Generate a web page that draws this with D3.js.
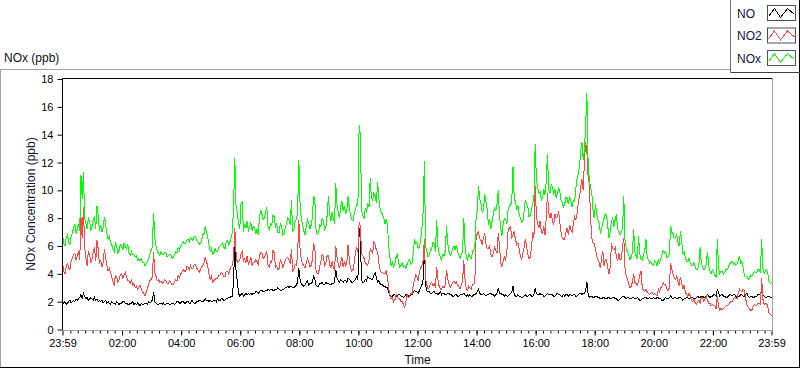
<!DOCTYPE html>
<html>
<head>
<meta charset="utf-8">
<script src="https://cdn.jsdelivr.net/npm/d3@7"></script>
<style>
body { margin: 0; background: #fff; }
svg text { font-family: "Liberation Sans", Arial, sans-serif; }
</style>
</head>
<body>
<div id="chart"></div>
<script>
// series names and colours, in legend order
var seriesNames = ["NO", "NO2", "NOx"];
var seriesColors = ["#000000", "#ff4444", "#00ff00"];

// one reading every 2.5 minutes from 23:59 to 23:59 (ppb), one row per hour
var stepMinutes = 2.5;

var no = [
  2.0, 1.9, 2.0, 1.8, 1.9, 2.0, 2.1, 1.9, 2.0, 2.1, 2.0, 2.2, 2.1, 2.2, 2.3, 2.5, 2.2, 2.6, 2.4, 2.2, 2.3, 2.1, 2.2, 2.3,
  2.2, 2.1, 2.3, 2.1, 2.2, 2.0, 2.1, 2.0, 2.1, 1.9, 2.0, 2.1, 1.9, 2.0, 1.9, 1.8, 2.0, 1.9, 1.9, 1.8, 2.0, 1.9, 1.8, 1.9,
  1.9, 2.0, 2.0, 1.9, 1.9, 1.8, 1.8, 1.9, 1.9, 2.0, 1.8, 1.9, 1.8, 1.9, 1.8, 1.7, 1.9, 1.8, 1.8, 1.9, 1.9, 1.8, 2.0, 1.9,
  2.0, 2.1, 2.7, 2.0, 1.9, 1.8, 1.8, 1.9, 1.9, 1.8, 1.9, 1.8, 1.8, 1.9, 1.9, 1.8, 1.8, 1.9, 1.9, 1.8, 1.9, 2.0, 2.0, 1.9,
  1.9, 2.0, 2.0, 1.9, 1.9, 2.0, 2.0, 1.9, 1.9, 2.1, 2.0, 1.9, 1.9, 2.0, 2.0, 2.1, 2.1, 2.0, 2.0, 2.1, 2.2, 2.1, 2.1, 2.0,
  2.1, 2.0, 2.0, 2.1, 2.1, 2.0, 2.2, 2.1, 2.1, 2.2, 2.2, 2.1, 2.1, 2.2, 2.2, 2.3, 2.3, 2.4, 2.4, 3.5, 6.4, 4.2, 3.5, 2.6,
  2.4, 2.5, 2.6, 2.4, 2.5, 2.6, 2.5, 2.6, 2.5, 2.6, 2.5, 2.6, 2.6, 2.7, 2.7, 2.6, 2.7, 2.8, 2.8, 2.7, 2.7, 2.8, 2.8, 2.9,
  2.8, 2.9, 2.9, 2.8, 2.8, 2.9, 2.9, 3.0, 2.9, 2.8, 2.8, 2.9, 2.9, 3.0, 3.0, 3.1, 3.0, 3.1, 3.1, 3.0, 3.0, 3.1, 3.2, 3.4,
  4.4, 3.6, 3.3, 3.2, 3.1, 3.2, 3.4, 3.5, 3.2, 3.3, 3.3, 3.4, 3.8, 3.6, 3.2, 3.1, 3.1, 3.3, 3.3, 3.4, 3.2, 3.2, 3.4, 3.3,
  3.3, 3.2, 3.2, 3.3, 3.3, 3.4, 4.3, 3.7, 3.5, 3.4, 3.6, 3.5, 3.4, 3.5, 3.5, 3.4, 3.7, 3.6, 3.5, 3.4, 3.4, 3.5, 3.6, 3.8,
  3.6, 7.3, 6.4, 3.5, 3.4, 3.4, 3.6, 3.5, 3.8, 3.7, 3.7, 3.6, 3.6, 3.9, 4.1, 3.7, 3.4, 3.5, 3.3, 3.2, 3.2, 3.1, 3.1, 3.0,
  3.0, 2.7, 2.5, 2.4, 2.4, 2.5, 2.5, 2.4, 2.4, 2.5, 2.5, 2.4, 2.4, 2.3, 2.4, 2.5, 2.5, 2.4, 2.4, 2.5, 2.5, 2.7, 2.8, 2.7,
  2.7, 2.6, 2.8, 3.0, 3.2, 3.6, 6.3, 3.2, 2.8, 2.7, 2.7, 2.6, 2.6, 2.7, 2.7, 2.6, 2.6, 2.5, 2.6, 2.7, 2.5, 2.6, 2.6, 2.5,
  2.5, 2.6, 2.6, 2.5, 2.5, 2.4, 2.4, 2.5, 2.5, 2.4, 2.4, 2.5, 2.5, 2.5, 2.6, 2.5, 2.4, 2.5, 2.4, 2.5, 2.4, 2.4, 2.5, 2.5,
  2.6, 2.7, 2.9, 2.6, 2.5, 2.5, 2.6, 2.5, 2.4, 2.5, 2.5, 2.6, 2.6, 2.5, 2.5, 2.4, 2.5, 2.6, 3.0, 2.6, 2.6, 2.5, 2.5, 2.4,
  2.5, 2.4, 2.4, 2.5, 2.6, 2.7, 3.1, 2.5, 2.4, 2.4, 2.5, 2.4, 2.4, 2.3, 2.3, 2.4, 2.5, 2.4, 2.4, 2.5, 2.5, 2.4, 2.4, 2.5,
  3.0, 2.6, 2.5, 2.5, 2.6, 2.5, 2.5, 2.4, 2.4, 2.5, 2.6, 2.5, 2.5, 2.5, 2.5, 2.4, 2.4, 2.5, 2.6, 2.5, 2.5, 2.4, 2.4, 2.5,
  2.4, 2.5, 2.5, 2.4, 2.5, 2.5, 2.4, 2.5, 2.5, 2.4, 2.4, 2.5, 2.6, 2.6, 2.5, 2.6, 2.6, 2.8, 3.4, 2.6, 2.3, 2.4, 2.4, 2.3,
  2.3, 2.4, 2.4, 2.3, 2.3, 2.2, 2.2, 2.3, 2.3, 2.2, 2.2, 2.3, 2.3, 2.2, 2.2, 2.3, 2.3, 2.2, 2.2, 2.1, 2.1, 2.2, 2.3, 2.4,
  2.4, 2.3, 2.2, 2.3, 2.3, 2.2, 2.2, 2.3, 2.3, 2.2, 2.2, 2.3, 2.2, 2.1, 2.1, 2.2, 2.2, 2.3, 2.3, 2.2, 2.2, 2.3, 2.2, 2.2,
  2.3, 2.2, 2.2, 2.3, 2.3, 2.2, 2.2, 2.1, 2.1, 2.2, 2.3, 2.2, 2.2, 2.3, 2.4, 2.3, 2.2, 2.3, 2.3, 2.2, 2.2, 2.3, 2.3, 2.2,
  2.1, 2.2, 2.2, 2.3, 2.3, 2.2, 2.2, 2.3, 2.3, 2.2, 2.2, 2.3, 2.4, 2.3, 2.3, 2.4, 2.4, 2.3, 2.3, 2.4, 2.5, 2.4, 2.3, 2.4,
  2.4, 2.5, 2.5, 2.4, 2.9, 2.6, 2.4, 2.5, 2.5, 2.4, 2.4, 2.3, 2.3, 2.4, 2.5, 2.5, 2.4, 2.5, 2.5, 2.4, 2.3, 2.4, 2.4, 2.5,
  2.5, 2.4, 2.4, 2.5, 2.6, 2.4, 2.3, 2.4, 2.4, 2.3, 2.3, 2.4, 2.4, 2.5, 2.5, 2.6, 2.7, 2.5, 2.4, 2.3, 2.3, 2.4, 2.4, 2.3, 2.3
];

var no2 = [
  4.8, 4.2, 4.0, 4.5, 4.8, 4.4, 4.3, 4.9, 5.1, 5.4, 5.5, 5.0, 5.3, 5.6, 5.0, 8.1, 6.6, 8.8, 6.0, 5.1, 4.6, 5.6, 5.4, 4.8,
  5.1, 5.6, 5.9, 4.9, 6.4, 5.8, 4.7, 5.0, 4.5, 4.8, 5.8, 5.2, 4.6, 4.2, 4.4, 4.1, 3.8, 3.4, 3.2, 3.9, 3.8, 3.4, 3.6, 3.9,
  4.0, 3.7, 3.9, 4.1, 3.8, 3.5, 3.5, 3.3, 3.6, 3.2, 3.3, 3.0, 3.1, 2.9, 3.0, 3.2, 2.9, 2.7, 2.6, 2.4, 2.7, 2.9, 3.3, 3.5,
  3.6, 3.8, 5.6, 4.1, 3.8, 3.5, 3.6, 3.4, 3.5, 3.3, 3.4, 3.6, 3.5, 3.3, 3.3, 3.5, 3.4, 3.2, 3.2, 3.4, 3.6, 3.5, 3.9, 3.7,
  4.0, 4.1, 4.3, 4.2, 4.2, 4.5, 4.5, 4.3, 4.6, 4.4, 4.4, 4.7, 4.7, 4.4, 4.3, 4.1, 4.3, 4.5, 4.6, 4.8, 5.2, 4.9, 4.5, 4.0,
  3.6, 3.8, 3.4, 3.5, 3.6, 3.7, 3.7, 3.9, 3.9, 4.1, 4.0, 3.8, 3.8, 4.2, 4.2, 4.0, 4.3, 4.5, 4.6, 5.2, 7.3, 5.5, 4.8, 4.9,
  5.0, 5.4, 5.6, 4.9, 5.1, 4.8, 5.3, 4.7, 4.9, 5.2, 4.6, 4.8, 4.8, 5.0, 4.9, 4.7, 5.3, 5.5, 5.5, 5.1, 5.2, 5.4, 5.6, 4.6,
  4.5, 4.9, 4.8, 5.7, 5.5, 4.5, 4.6, 4.3, 4.4, 5.0, 4.8, 4.5, 4.7, 5.0, 5.1, 5.2, 5.0, 4.7, 5.8, 4.2, 4.3, 4.7, 4.6, 5.4,
  7.9, 5.8, 5.0, 4.7, 4.6, 4.4, 4.8, 5.1, 4.9, 4.5, 4.6, 5.0, 6.2, 5.9, 4.2, 4.0, 4.0, 4.6, 4.9, 5.4, 5.2, 4.6, 4.8, 5.3,
  5.3, 4.7, 4.4, 4.9, 4.5, 4.2, 6.0, 5.2, 4.7, 4.4, 4.8, 5.2, 4.5, 4.9, 4.6, 4.8, 6.1, 5.0, 4.4, 4.2, 4.3, 4.8, 5.5, 5.9,
  5.6, 7.7, 7.4, 5.4, 5.3, 5.1, 4.8, 4.7, 4.6, 5.0, 5.8, 5.6, 5.5, 6.3, 6.1, 5.7, 5.6, 4.8, 4.3, 4.1, 4.1, 4.0, 4.0, 4.2,
  3.8, 3.0, 2.4, 2.2, 2.3, 2.0, 2.1, 2.5, 2.4, 2.2, 2.2, 2.0, 2.0, 1.8, 1.6, 2.0, 2.5, 2.3, 2.4, 2.6, 2.6, 3.2, 3.6, 3.9,
  3.8, 3.5, 4.2, 4.4, 4.6, 5.0, 6.5, 3.6, 3.2, 2.9, 3.0, 3.3, 3.4, 3.1, 3.3, 3.0, 4.5, 3.6, 3.1, 2.9, 2.9, 3.1, 3.0, 3.3,
  4.3, 3.6, 3.3, 3.0, 3.2, 3.4, 3.5, 3.3, 3.4, 3.2, 3.1, 2.9, 3.2, 3.4, 5.0, 3.6, 2.9, 2.8, 3.1, 3.0, 2.9, 3.2, 3.2, 3.5,
  6.6, 6.9, 7.0, 6.5, 6.4, 6.1, 6.6, 6.9, 6.2, 5.8, 5.8, 6.0, 5.4, 5.2, 5.5, 5.9, 5.7, 5.5, 6.9, 6.0, 4.8, 4.5, 4.9, 5.2,
  5.0, 5.6, 7.1, 7.3, 7.4, 6.6, 6.8, 7.0, 6.5, 6.1, 6.2, 5.8, 5.3, 5.0, 5.5, 5.9, 6.5, 6.0, 5.4, 5.1, 5.2, 5.9, 7.0, 6.6,
  10.3, 8.2, 7.6, 7.3, 7.8, 7.0, 6.9, 7.4, 6.8, 8.0, 9.8, 8.4, 8.0, 8.4, 7.8, 7.5, 8.3, 8.0, 8.1, 8.5, 7.7, 7.0, 6.6, 6.5,
  6.5, 7.0, 7.3, 6.8, 7.5, 7.2, 7.0, 7.6, 8.1, 7.9, 8.3, 9.1, 9.5, 10.2, 10.8, 10.0, 12.0, 13.5, 12.8, 11.0, 10.5, 8.0, 6.6, 6.2,
  6.2, 5.8, 5.3, 5.0, 4.8, 4.4, 5.2, 5.6, 4.6, 5.0, 5.0, 4.4, 4.0, 4.5, 6.2, 5.8, 5.7, 5.9, 5.2, 4.9, 5.5, 5.0, 5.0, 6.0,
  6.6, 4.4, 3.8, 3.6, 3.3, 3.0, 3.1, 3.4, 4.0, 3.4, 3.3, 3.2, 3.5, 3.9, 4.2, 3.0, 2.8, 2.7, 2.9, 2.7, 2.6, 2.5, 2.6, 2.7,
  2.5, 2.6, 2.5, 2.4, 2.9, 2.7, 3.0, 3.1, 3.4, 3.2, 3.2, 2.9, 2.8, 3.0, 4.8, 4.3, 4.0, 3.7, 3.6, 3.9, 3.4, 3.2, 3.8, 3.3,
  2.9, 3.2, 2.7, 2.5, 2.4, 2.6, 2.4, 2.1, 2.0, 2.2, 1.9, 1.8, 2.0, 2.1, 1.9, 2.3, 2.3, 2.0, 2.2, 2.4, 2.1, 1.9, 1.9, 1.7,
  1.8, 1.7, 1.7, 1.5, 2.4, 1.6, 1.4, 1.5, 1.4, 1.5, 1.6, 1.7, 1.7, 1.8, 1.9, 2.0, 2.0, 2.2, 2.3, 2.2, 2.2, 2.6, 2.9, 2.8,
  2.7, 2.9, 2.8, 2.2, 1.8, 1.6, 1.5, 1.4, 1.4, 1.6, 1.8, 1.7, 1.7, 1.9, 1.9, 1.8, 3.7, 2.2, 1.8, 1.9, 1.9, 1.6, 1.2, 1.1, 1.0
];

var nox = [
  6.9, 6.2, 6.0, 6.6, 6.8, 6.3, 6.1, 6.7, 6.9, 7.3, 7.6, 6.9, 7.2, 7.6, 7.1, 11.1, 9.4, 11.3, 8.0, 7.6, 7.2, 8.0, 7.8, 7.1,
  7.4, 7.9, 8.1, 7.2, 8.9, 8.2, 7.1, 7.5, 7.0, 7.3, 8.1, 7.6, 6.9, 6.5, 6.7, 6.3, 6.1, 5.8, 5.6, 6.2, 6.0, 5.5, 5.7, 6.1,
  6.0, 5.7, 6.2, 5.9, 5.8, 6.1, 5.5, 5.3, 5.6, 5.4, 5.4, 5.2, 5.3, 5.0, 5.1, 4.9, 5.1, 4.8, 4.8, 4.6, 4.7, 4.9, 5.1, 5.4,
  5.7, 5.9, 8.4, 6.6, 6.0, 5.6, 5.5, 5.3, 5.6, 5.4, 5.4, 5.5, 5.5, 5.2, 5.3, 5.4, 5.4, 5.1, 5.2, 5.3, 5.6, 5.5, 5.9, 5.7,
  6.0, 6.1, 6.3, 6.2, 6.2, 6.4, 6.5, 6.3, 6.6, 6.5, 6.4, 6.7, 6.7, 6.4, 6.3, 6.1, 6.2, 6.4, 6.8, 6.9, 7.4, 7.0, 6.6, 6.1,
  5.6, 5.8, 5.4, 5.5, 5.8, 5.6, 5.6, 5.9, 6.0, 6.1, 6.2, 5.9, 5.8, 6.3, 6.4, 6.1, 6.3, 6.6, 7.0, 9.0, 12.3, 8.8, 8.4, 7.6,
  7.2, 9.0, 9.2, 7.0, 7.6, 7.3, 7.8, 7.1, 7.3, 7.7, 7.1, 7.4, 7.3, 6.9, 7.2, 6.8, 8.0, 8.6, 8.3, 7.9, 8.0, 8.5, 8.8, 7.4,
  7.2, 7.6, 7.5, 8.2, 8.1, 7.4, 7.6, 7.0, 7.0, 7.6, 7.4, 6.8, 6.9, 7.3, 7.7, 8.0, 7.9, 7.5, 9.3, 7.0, 7.2, 7.8, 7.9, 8.4,
  12.2, 9.0, 8.0, 7.5, 7.1, 6.8, 7.4, 7.9, 7.7, 7.2, 7.5, 8.0, 9.6, 9.3, 7.1, 6.8, 6.9, 7.5, 7.4, 8.0, 7.8, 7.2, 7.4, 8.2,
  9.6, 8.3, 7.8, 8.4, 8.0, 7.6, 10.5, 9.0, 8.4, 8.0, 8.8, 9.2, 8.5, 8.9, 8.3, 8.6, 9.6, 8.7, 8.2, 7.9, 7.8, 8.3, 8.6, 9.0,
  9.0, 14.7, 14.0, 8.6, 8.2, 8.0, 8.7, 8.4, 9.1, 8.8, 10.9, 9.4, 9.3, 9.8, 9.6, 9.1, 10.6, 9.5, 8.7, 8.4, 8.3, 8.0, 7.6, 7.9,
  7.5, 6.0, 5.2, 4.6, 4.8, 4.5, 4.7, 5.2, 5.4, 4.8, 4.5, 4.6, 4.8, 4.5, 4.6, 4.4, 4.7, 4.9, 5.0, 4.7, 4.8, 5.5, 6.5, 6.2,
  6.3, 5.8, 5.9, 6.4, 7.3, 8.4, 12.1, 6.0, 5.6, 5.2, 5.4, 5.7, 5.8, 6.3, 6.1, 5.6, 7.9, 6.0, 5.4, 5.2, 5.0, 5.4, 5.3, 5.7,
  7.4, 6.2, 5.6, 5.3, 5.5, 5.8, 6.0, 5.7, 6.1, 5.6, 5.3, 5.1, 5.4, 5.6, 8.0, 6.1, 5.2, 5.0, 5.4, 5.2, 5.1, 5.5, 5.7, 5.9,
  8.0, 8.6, 10.3, 9.4, 9.0, 8.4, 8.6, 9.7, 9.2, 8.7, 7.5, 7.9, 7.2, 7.8, 8.3, 8.8, 8.5, 9.0, 10.0, 8.2, 7.3, 6.7, 7.6, 8.0,
  7.9, 7.6, 8.6, 8.9, 8.9, 9.3, 11.7, 9.4, 9.2, 8.6, 8.9, 8.3, 8.0, 7.7, 7.8, 8.5, 9.3, 9.0, 8.9, 8.1, 8.2, 8.6, 9.1, 9.4,
  13.3, 10.8, 10.2, 9.8, 9.9, 9.3, 9.4, 10.1, 9.7, 10.6, 12.6, 10.0, 9.8, 10.4, 10.3, 9.7, 10.1, 9.5, 9.7, 10.2, 9.9, 9.3, 9.1, 8.8,
  9.0, 9.5, 9.4, 9.0, 9.6, 9.2, 8.8, 9.3, 9.2, 10.1, 10.8, 11.2, 11.7, 12.8, 13.5, 12.2, 12.9, 14.6, 17.0, 12.0, 10.8, 10.2, 9.8, 8.6,
  8.0, 9.0, 8.3, 7.9, 7.6, 6.9, 7.2, 7.7, 8.0, 8.3, 8.1, 7.4, 6.6, 7.0, 7.8, 8.0, 7.4, 7.9, 8.3, 7.2, 7.1, 6.8, 7.0, 7.3,
  9.6, 6.4, 5.8, 5.6, 5.4, 5.0, 5.2, 5.5, 7.2, 5.6, 5.3, 5.1, 6.7, 5.4, 5.1, 5.0, 5.4, 5.6, 6.5, 5.2, 5.0, 4.8, 4.9, 4.7,
  4.6, 4.9, 4.8, 4.6, 5.0, 4.8, 5.1, 5.3, 5.7, 5.5, 5.6, 5.2, 5.2, 5.4, 7.4, 7.0, 6.9, 6.5, 6.6, 6.8, 6.2, 6.0, 7.1, 6.4,
  5.4, 5.6, 5.2, 4.9, 4.9, 5.1, 4.8, 4.6, 4.6, 4.8, 4.5, 4.3, 4.3, 4.6, 5.9, 4.8, 4.5, 4.3, 4.4, 4.7, 5.6, 4.6, 4.2, 4.0,
  4.3, 4.1, 3.9, 3.8, 6.5, 4.4, 4.0, 4.2, 4.2, 4.0, 4.1, 4.3, 4.3, 4.5, 4.7, 4.8, 4.9, 4.7, 4.8, 4.6, 4.7, 5.0, 5.3, 4.8,
  4.9, 4.4, 3.9, 3.8, 3.8, 3.6, 3.7, 3.9, 3.8, 4.0, 4.2, 4.1, 4.1, 4.3, 4.3, 4.1, 6.5, 4.4, 4.0, 4.2, 4.3, 4.0, 3.5, 3.3, 3.4
];

var yTicks = [0, 2, 4, 6, 8, 10, 12, 14, 16, 18];
var xLabelHours = [2, 4, 6, 8, 10, 12, 14, 16, 18, 20, 22];

var width = 800,
    height = 369;

var plot = {left: 62.5, top: 78.5, right: 772.5, bottom: 330.5};

var svg = d3.select("#chart")
    .append("svg")
    .attr("width", width)
    .attr("height", height);

var start = new Date(2000, 0, 1, 23, 59);
var end = d3.timeMinute.offset(start, 1440);
var times = no.map((d, i) => new Date(+start + i * stepMinutes * 60000));

var x = d3.scaleTime()
    .domain([start, end])
    .range([62.5, 771.5]);

var y = d3.scaleLinear()
    .domain([0, 18])
    .range([329.5, 79]);

// outer panel frame
svg.append("line").attr("x1", 0).attr("x2", 730.5).attr("y1", 69.5).attr("y2", 69.5).attr("stroke", "#a0a0a0");
svg.append("line").attr("x1", 0.5).attr("x2", 0.5).attr("y1", 69.5).attr("y2", 368).attr("stroke", "#a0a0a0");
svg.append("line").attr("x1", 0).attr("x2", 800).attr("y1", 367.5).attr("y2", 367.5).attr("stroke", "#000");
svg.append("line").attr("x1", 799.5).attr("x2", 799.5).attr("y1", 0).attr("y2", 368).attr("stroke", "#000");

svg.append("text")
    .attr("x", 4)
    .attr("y", 62)
    .attr("font-size", 12)
    .attr("fill", "#111")
    .text("NOx (ppb)");

// legend
var legend = svg.append("g").attr("class", "legend");
legend.append("line").attr("x1", 730.5).attr("x2", 730.5).attr("y1", 0).attr("y2", 72.5).attr("stroke", "#707070");
legend.append("line").attr("x1", 730.5).attr("x2", 800).attr("y1", 72.5).attr("y2", 72.5).attr("stroke", "#404040");

var swatchLine = d3.line();
var zig = [[1, 11], [7, 3], [13, 12], [20, 3], [27, 9]];

seriesNames.forEach(function(name, i) {
    var top = 5.5 + i * 22.5;
    legend.append("text")
        .attr("x", 737)
        .attr("y", top + 8)
        .attr("dy", "0.35em")
        .attr("font-size", 12)
        .attr("fill", "#141438")
        .text(name);
    legend.append("rect")
        .attr("x", 767.5)
        .attr("y", top)
        .attr("width", 28)
        .attr("height", 15)
        .attr("fill", "#fff")
        .attr("stroke", "#505050");
    legend.append("path")
        .attr("d", swatchLine(zig.map(p => [767.5 + p[0], top + p[1]])))
        .attr("fill", "none")
        .attr("stroke", seriesColors[i])
        .attr("shape-rendering", "crispEdges");
});

// x axis: minor ticks every 15 minutes, labelled ticks every 2 hours
var minorTicks = d3.timeMinute.every(15).range(start, end)
    .filter(d => Math.abs(d - start) > 5 * 60000 && Math.abs(end - d) > 5 * 60000);

svg.append("g")
    .attr("transform", `translate(0,${plot.bottom})`)
    .call(d3.axisBottom(x).tickValues(minorTicks).tickSize(3).tickFormat(""))
    .call(g => g.select(".domain").remove())
    .call(g => g.selectAll("line").attr("stroke", "#000"));

var majorTicks = [start].concat(xLabelHours.map(h => new Date(2000, 0, 2, h, 0)), [end]);

svg.append("g")
    .attr("class", "x-axis")
    .attr("transform", `translate(0,${plot.bottom})`)
    .call(d3.axisBottom(x)
        .tickValues(majorTicks)
        .tickSize(5)
        .tickPadding(4)
        .tickFormat(d3.timeFormat("%H:%M")))
    .call(g => g.select(".domain").remove())
    .call(g => g.selectAll("text")
        .attr("font-size", 11)
        .attr("font-family", "Liberation Sans, Arial, sans-serif")
        .attr("fill", "#000"));

svg.append("g")
    .attr("class", "y-axis")
    .attr("transform", `translate(${plot.left},0)`)
    .call(d3.axisLeft(y)
        .tickValues(yTicks)
        .tickSize(5)
        .tickPadding(4))
    .call(g => g.select(".domain").remove())
    .call(g => g.selectAll("text")
        .attr("font-size", 11)
        .attr("font-family", "Liberation Sans, Arial, sans-serif")
        .attr("fill", "#000"));

svg.append("text")
    .attr("transform", "translate(31,204) rotate(-90)")
    .attr("text-anchor", "middle")
    .attr("dy", "0.35em")
    .attr("font-size", 12)
    .attr("fill", "#141438")
    .text("NOx Concentration (ppb)");

svg.append("text")
    .attr("x", (plot.left + plot.right) / 2)
    .attr("y", 364)
    .attr("text-anchor", "middle")
    .attr("font-size", 12)
    .attr("fill", "#111")
    .text("Time");

// plot lines
svg.append("clipPath")
    .attr("id", "clip")
    .append("rect")
    .attr("x", plot.left)
    .attr("y", plot.top)
    .attr("width", plot.right - plot.left)
    .attr("height", plot.bottom - plot.top);

var line = d3.line()
    .x((d, i) => x(times[i]))
    .y(d => y(d));

var series = [no, no2, nox];

svg.append("g")
    .attr("clip-path", "url(#clip)")
    .selectAll("path")
    .data(series)
    .enter().append("path")
    .attr("d", line)
    .attr("fill", "none")
    .attr("stroke", (d, i) => seriesColors[i])
    .attr("stroke-width", 1)
    .attr("shape-rendering", "crispEdges");

// plot frame: dark top/left, grey bottom/right
svg.append("line").attr("x1", plot.left).attr("x2", plot.right).attr("y1", plot.top).attr("y2", plot.top).attr("stroke", "#000");
svg.append("line").attr("x1", plot.left).attr("x2", plot.left).attr("y1", plot.top).attr("y2", plot.bottom).attr("stroke", "#000");
svg.append("line").attr("x1", plot.left).attr("x2", plot.right).attr("y1", plot.bottom).attr("y2", plot.bottom).attr("stroke", "#a0a0a0");
svg.append("line").attr("x1", plot.right).attr("x2", plot.right).attr("y1", plot.top).attr("y2", plot.bottom).attr("stroke", "#a0a0a0");
</script>
</body>
</html>
